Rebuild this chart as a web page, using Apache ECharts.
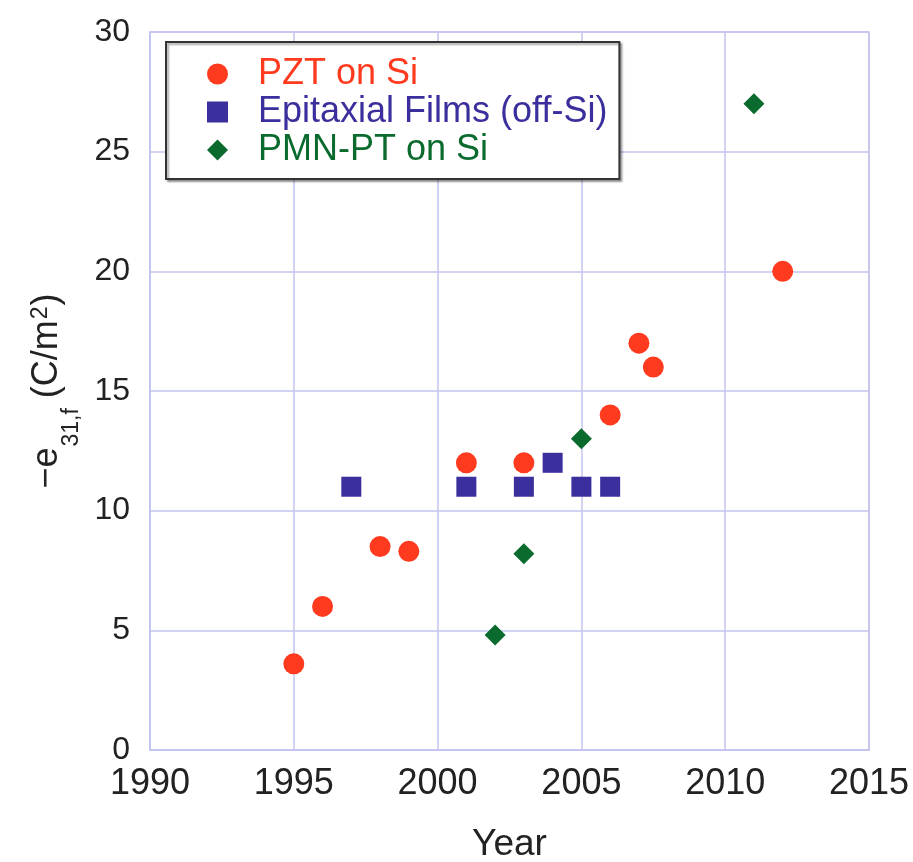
<!DOCTYPE html>
<html>
<head>
<meta charset="utf-8">
<script src="https://cdn.jsdelivr.net/npm/echarts@6/dist/echarts.min.js"></script>
<style>
html,body{margin:0;padding:0;background:#fff;}
#chart{width:913px;height:862px;}
</style>
</head>
<body>
<div id="chart"></div>
<script>
// Data
var pztYears = [1995, 1996, 1998, 1999, 2001, 2003, 2006, 2007, 2007.5, 2012];
var pztValues = [3.6, 6.0, 8.5, 8.3, 12, 12, 14, 17, 16, 20];
var epiYears = [1997, 2001, 2003, 2004, 2005, 2006];
var epiValues = [11, 11, 11, 12, 11, 11];
var pmnYears = [2002, 2003, 2005, 2011];
var pmnValues = [4.8, 8.2, 13, 27];
var seriesNames = ['PZT on Si', 'Epitaxial Films (off-Si)', 'PMN-PT on Si'];
var xTicks = [1990, 1995, 2000, 2005, 2010, 2015];
var yTicks = [0, 5, 10, 15, 20, 25, 30];

function pairs(xs, ys) { return xs.map(function (x, i) { return [x, ys[i]]; }); }

var RED = '#ff3a1f', BLUE = '#3a2f9c', GREEN = '#0b6b2f';
var GRIDC = '#c3c3ee';
var FONT = '"Liberation Sans", Arial, Helvetica, sans-serif';

var chart = echarts.init(document.getElementById('chart'));
chart.setOption({
  animation: false,
  backgroundColor: '#fff',
  textStyle: { fontFamily: FONT },
  grid: {
    left: 150, right: 44, top: 32, bottom: 112,
    outerBoundsMode: 'none', containLabel: false,
    show: true, borderColor: GRIDC, borderWidth: 1.5, backgroundColor: 'transparent'
  },
  legend: {
    orient: 'vertical',
    left: 166, top: 42,
    padding: [13, 12, 10, 41],
    itemWidth: 21, itemHeight: 21, itemGap: 0,
    selectedMode: false,
    backgroundColor: '#fff',
    borderColor: '#333', borderWidth: 2,
    shadowColor: 'rgba(0,0,0,0.35)', shadowBlur: 2, shadowOffsetX: 2, shadowOffsetY: 2,
    textStyle: { fontSize: 36, lineHeight: 38, fontFamily: FONT, padding: [0, 0, 0, 25] },
    data: [
      { name: seriesNames[0], icon: 'circle', textStyle: { color: RED } },
      { name: seriesNames[1], icon: 'rect', textStyle: { color: BLUE } },
      { name: seriesNames[2], icon: 'diamond', textStyle: { color: GREEN } }
    ]
  },
  xAxis: {
    type: 'value', min: xTicks[0], max: xTicks[xTicks.length - 1], interval: 5,
    name: 'Year', nameLocation: 'middle', nameGap: 76,
    nameTextStyle: { fontSize: 37, color: '#222', fontFamily: FONT },
    axisLine: { show: true, lineStyle: { color: GRIDC, width: 1.5 } },
    axisTick: { show: false },
    axisLabel: { fontSize: 36, color: '#222', margin: 16, fontFamily: FONT,
      formatter: function (v) { return String(v); } },
    splitLine: { show: true, lineStyle: { color: GRIDC, width: 1.5 } }
  },
  yAxis: {
    type: 'value', min: yTicks[0], max: yTicks[yTicks.length - 1], interval: 5,
    name: '{m|\u2212e}{sub|31,f}{m| (C/m}{sup|2}{m|)}',
    nameLocation: 'middle', nameGap: 68, nameRotate: 90,
    nameTextStyle: {
      color: '#222', fontFamily: FONT,
      rich: {
        m: { fontSize: 36, lineHeight: 36, verticalAlign: 'top', color: '#222', fontFamily: FONT },
        sub: { fontSize: 23, lineHeight: 23, verticalAlign: 'top', padding: [31, 0, 0, 1], color: '#222', fontFamily: FONT },
        sup: { fontSize: 23, lineHeight: 23, verticalAlign: 'top', padding: [0, 1, 0, 1], color: '#222', fontFamily: FONT }
      }
    },
    axisLine: { show: true, lineStyle: { color: GRIDC, width: 1.5 } },
    axisTick: { show: false },
    axisLabel: { fontSize: 32, color: '#222', margin: 20, fontFamily: FONT },
    splitLine: { show: true, lineStyle: { color: GRIDC, width: 1.5 } }
  },
  series: [
    { name: seriesNames[0], type: 'scatter', symbol: 'circle', symbolSize: 21,
      itemStyle: { color: RED, opacity: 1 }, data: pairs(pztYears, pztValues), z: 3 },
    { name: seriesNames[1], type: 'scatter', symbol: 'rect', symbolSize: 20,
      itemStyle: { color: BLUE, opacity: 1 }, data: pairs(epiYears, epiValues), z: 2 },
    { name: seriesNames[2], type: 'scatter', symbol: 'diamond', symbolSize: 21,
      itemStyle: { color: GREEN, opacity: 1 }, data: pairs(pmnYears, pmnValues), z: 4 }
  ]
});
</script>
</body>
</html>
